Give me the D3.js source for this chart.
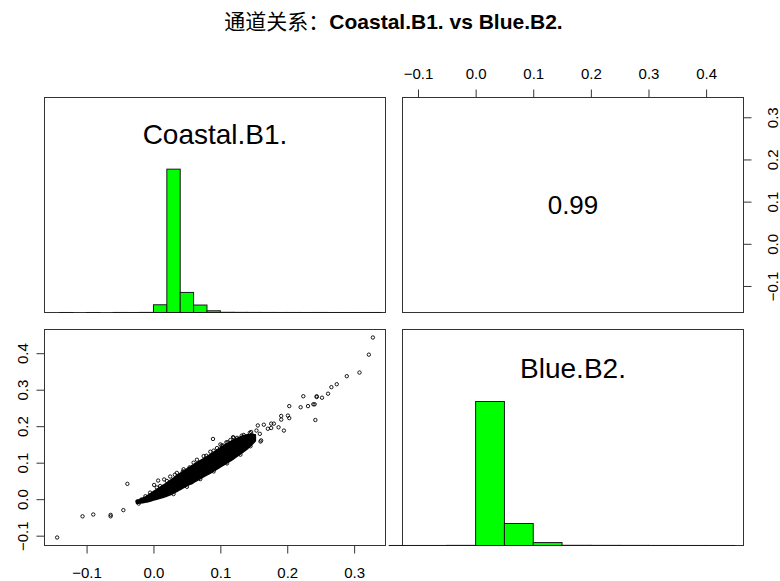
<!DOCTYPE html>
<html>
<head>
<meta charset="utf-8">
<script src="https://cdn.jsdelivr.net/npm/d3@7"></script>
<style>
  body { margin: 0; background: #fff; }
  text { font-family: "Liberation Sans", Arial, sans-serif; fill: #000; }
</style>
</head>
<body>
<svg id="chart" width="780" height="581"></svg>
<script>
const titleCn = "通道关系：";
const titleEn = "Coastal.B1. vs Blue.B2.";
const varNames = ["Coastal.B1.", "Blue.B2."];
const corrText = "0.99";

// scattered points (Coastal.B1., Blue.B2.)
const coastalPts = [-0.144, -0.106, -0.090, -0.064, -0.064, -0.045, -0.039, -0.024, -0.022, -0.018,
  0.001, 0.007, 0.016, 0.089, 0.104, 0.136, 0.144, 0.156, 0.161, 0.165,
  0.171, 0.176, 0.180, 0.187, 0.191, 0.195, 0.201, 0.203, 0.191, 0.203,
  0.220, 0.224, 0.231, 0.239, 0.241, 0.244, 0.244, 0.242, 0.252, 0.261,
  0.266, 0.274, 0.289, 0.308, 0.322, 0.328,
  0.159, 0.154, 0.176, 0.160, 0.111, 0.119, 0.132, 0.146, 0.102, 0.109,
  0.032, 0.044, 0.054, 0.079, 0.057, 0.082,
  -0.012, -0.005, 0.010, 0.020, 0.035, 0.045, 0.065, 0.075, 0.090, 0.095,
  0.115, 0.125, 0.135, 0.030, 0.050, 0.070, 0.090, 0.110, 0.130, 0.145,
  0.150, 0.140, 0.128, 0.148, 0.025, 0.060, 0.085, 0.100, 0.120, 0.005];
const bluePts = [-0.105, -0.047, -0.042, -0.043, -0.047, -0.030, 0.042, -0.006, -0.012, -0.001,
  0.039, 0.051, 0.054, 0.165, 0.147, 0.170, 0.182, 0.202, 0.161, 0.204,
  0.193, 0.207, 0.207, 0.197, 0.228, 0.188, 0.229, 0.255, 0.218, 0.222,
  0.252, 0.282, 0.255, 0.260, 0.260, 0.280, 0.282, 0.217, 0.278, 0.289,
  0.307, 0.315, 0.337, 0.347, 0.396, 0.443,
  0.179, 0.188, 0.195, 0.158, 0.156, 0.170, 0.174, 0.184, 0.147, 0.156,
  0.067, 0.076, 0.087, 0.119, 0.046, 0.097,
  0.008, 0.018, 0.036, 0.050, 0.072, 0.082, 0.108, 0.118, 0.133, 0.140,
  0.162, 0.168, 0.176, 0.014, 0.034, 0.055, 0.076, 0.098, 0.122, 0.145,
  0.165, 0.160, 0.150, 0.175, 0.062, 0.100, 0.130, 0.150, 0.168, 0.032];

// dense, fully overplotted core of the cloud: lower / upper Blue.B2. edge per Coastal.B1.
const coreX  = [-0.025, -0.010, 0.000, 0.020, 0.040, 0.060, 0.080, 0.100, 0.120, 0.140, 0.152];
const coreLo = [-0.011, -0.007, -0.002, 0.009, 0.027, 0.047, 0.067, 0.089, 0.112, 0.138, 0.160];
const coreHi = [-0.005, 0.008, 0.020, 0.044, 0.070, 0.094, 0.116, 0.140, 0.162, 0.176, 0.176];

// histograms
const coastalBinWidth = 0.02;
const coastalBins = [-0.14, -0.12, -0.10, -0.08, -0.06, -0.04, -0.02, 0.00, 0.02, 0.04, 0.06, 0.08,
  0.10, 0.12, 0.14, 0.16, 0.18, 0.20, 0.22, 0.24, 0.26, 0.28, 0.30, 0.32];
const coastalCounts = [1, 0, 1, 0, 3, 2, 6, 445, 8250, 1155, 430, 100,
  12, 8, 6, 4, 3, 3, 2, 3, 1, 1, 1, 2];
const blueBinWidth = 0.05;
const blueBins = [-0.15, -0.10, -0.05, 0.00, 0.05, 0.10, 0.15, 0.20, 0.25, 0.30, 0.35, 0.40];
const blueCounts = [1, 2, 8, 8800, 1345, 180, 12, 8, 6, 3, 2, 1];

const coastalTicks = [-0.1, 0.0, 0.1, 0.2, 0.3];
const blueTicks = [-0.1, 0.0, 0.1, 0.2, 0.3, 0.4];

const svg = d3.select("#chart");
const fmt = d3.format(".1f");

const cols = [{ x0: 44.5, x1: 385.5 }, { x0: 402.5, x1: 743.5 }];
const rows = [{ y0: 97.5, y1: 312.5 }, { y0: 329.5, y1: 545.5 }];

// R style range: data extent widened by 4%
function rRange(vals) {
  const [lo, hi] = d3.extent(vals);
  const pad = (hi - lo) * 0.04;
  return [lo - pad, hi + pad];
}
const coastalDom = rRange(coastalPts);
const blueDom = rRange(bluePts);

// title
const title = svg.append("text")
  .attr("x", 393.5).attr("y", 29)
  .attr("text-anchor", "middle")
  .style("font-size", "21px");
title.append("tspan").text(titleCn)
  .style("font-family", "'Noto Sans CJK SC', sans-serif");
title.append("tspan").text(titleEn)
  .style("font-weight", "bold");

// panel boxes
cols.forEach(c => rows.forEach(r => {
  svg.append("rect")
    .attr("x", c.x0).attr("y", r.y0)
    .attr("width", c.x1 - c.x0).attr("height", r.y1 - r.y0)
    .attr("fill", "none").attr("stroke", "#333").attr("stroke-width", 1);
}));

// ---- top-left: histogram of Coastal.B1.
const xC1 = d3.scaleLinear().domain(coastalDom).range([cols[0].x0, cols[0].x1]);
const yH1 = d3.scaleLinear().domain([0, 1.5]).range([rows[0].y1, rows[0].y0]);
const maxC = d3.max(coastalCounts);
svg.append("g").selectAll("rect")
  .data(coastalBins.map((b, i) => ({ b, h: coastalCounts[i] / maxC })))
  .enter().append("rect")
  .attr("x", d => xC1(d.b))
  .attr("width", d => xC1(d.b + coastalBinWidth) - xC1(d.b))
  .attr("y", d => yH1(d.h))
  .attr("height", d => yH1(0) - yH1(d.h))
  .attr("fill", "#00ff00").attr("stroke", "#1a1a1a").attr("stroke-width", 1);

svg.append("text")
  .attr("x", (cols[0].x0 + cols[0].x1) / 2).attr("y", 144)
  .attr("text-anchor", "middle").style("font-size", "28px")
  .text(varNames[0]);

// ---- bottom-right: histogram of Blue.B2.
const xB2 = d3.scaleLinear().domain(blueDom).range([cols[1].x0, cols[1].x1]);
const yH2 = d3.scaleLinear().domain([0, 1.5]).range([rows[1].y1, rows[1].y0]);
const maxB = d3.max(blueCounts);
svg.append("g").selectAll("rect")
  .data(blueBins.map((b, i) => ({ b, h: blueCounts[i] / maxB })))
  .enter().append("rect")
  .attr("x", d => xB2(d.b))
  .attr("width", d => xB2(d.b + blueBinWidth) - xB2(d.b))
  .attr("y", d => yH2(d.h))
  .attr("height", d => yH2(0) - yH2(d.h))
  .attr("fill", "#00ff00").attr("stroke", "#1a1a1a").attr("stroke-width", 1);

svg.append("text")
  .attr("x", (cols[1].x0 + cols[1].x1) / 2).attr("y", 378)
  .attr("text-anchor", "middle").style("font-size", "28px")
  .text(varNames[1]);

// ---- top-right: correlation
svg.append("text")
  .attr("x", (cols[1].x0 + cols[1].x1) / 2).attr("y", 214)
  .attr("text-anchor", "middle").style("font-size", "26px")
  .text(corrText);

// ---- bottom-left: scatter
const xS = d3.scaleLinear().domain(coastalDom).range([cols[0].x0, cols[0].x1]);
const yS = d3.scaleLinear().domain(blueDom).range([rows[1].y1, rows[1].y0]);

const core = d3.area()
  .x(d => xS(d.x)).y0(d => yS(d.lo)).y1(d => yS(d.hi))
  .curve(d3.curveCatmullRom);
svg.append("path")
  .datum(coreX.map((x, i) => ({ x, lo: coreLo[i], hi: coreHi[i] })))
  .attr("d", core)
  .attr("fill", "#000").attr("stroke", "#000").attr("stroke-width", 2)
  .attr("stroke-linejoin", "round");

svg.append("g").selectAll("circle")
  .data(coastalPts.map((c, i) => [c, bluePts[i]]))
  .enter().append("circle")
  .attr("cx", d => xS(d[0]))
  .attr("cy", d => yS(d[1]))
  .attr("r", 1.7)
  .attr("fill", "none").attr("stroke", "#000").attr("stroke-width", 0.9);

// ---- axes
function styleAxis(g) {
  g.select(".domain").remove();
  g.selectAll(".tick line").attr("stroke", "#333");
  g.selectAll(".tick text").style("font-size", "15px").attr("fill", "#000");
}

// bottom (Coastal.B1.)
svg.append("g")
  .attr("transform", `translate(0,${rows[1].y1})`)
  .call(d3.axisBottom(xS).tickValues(coastalTicks).tickFormat(fmt).tickSize(8).tickPadding(14))
  .call(styleAxis);

// top (Blue.B2.)
svg.append("g")
  .attr("transform", `translate(0,${rows[0].y0})`)
  .call(d3.axisTop(xB2).tickValues(blueTicks).tickFormat(fmt).tickSize(8).tickPadding(11))
  .call(styleAxis);

// left (Blue.B2.), labels parallel to axis
const yLeft = svg.append("g")
  .attr("transform", `translate(${cols[0].x0},0)`)
  .call(d3.axisLeft(yS).tickValues(blueTicks).tickFormat(fmt).tickSize(8))
  .call(styleAxis);
yLeft.selectAll(".tick text")
  .attr("x", null).attr("dy", null)
  .attr("text-anchor", "middle")
  .attr("transform", "translate(-16.5,0) rotate(-90)");

// right (Coastal.B1.)
const yR = d3.scaleLinear().domain(coastalDom).range([rows[0].y1, rows[0].y0]);
const yRight = svg.append("g")
  .attr("transform", `translate(${cols[1].x1},0)`)
  .call(d3.axisRight(yR).tickValues(coastalTicks).tickFormat(fmt).tickSize(8))
  .call(styleAxis);
yRight.selectAll(".tick text")
  .attr("x", null).attr("dy", null)
  .attr("text-anchor", "middle")
  .attr("transform", "translate(34.5,0) rotate(-90)");
</script>
</body>
</html>
